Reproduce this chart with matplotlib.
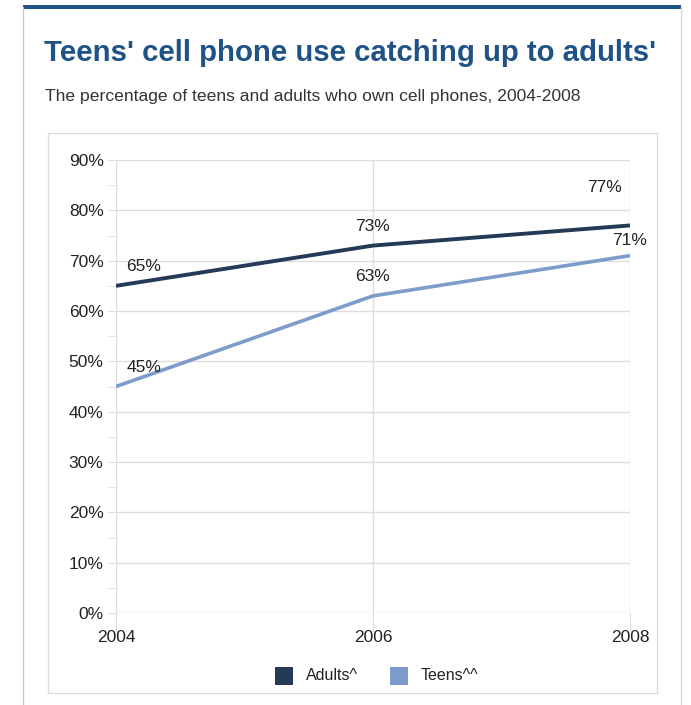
import matplotlib
matplotlib.use('Agg')
import matplotlib.pyplot as plt
from matplotlib.patches import Rectangle
from matplotlib.lines import Line2D

years = [2004, 2006, 2008]
adults = [65, 73, 77]
teens = [45, 63, 71]
series_names = ['Adults^', 'Teens^^']
y_ticks = [0, 10, 20, 30, 40, 50, 60, 70, 80, 90]

adult_color = '#243a56'
teen_color = '#7d9ccc'
text_color = '#222222'
grid_color = '#dddddd'

plt.rcParams['font.family'] = ['Liberation Sans', 'DejaVu Sans']

W, H = 691, 705
fig = plt.figure(figsize=(W / 100, H / 100), dpi=100)
fig.patch.set_facecolor('white')


def px(x, y):
    # pixel coords (top-left origin) to figure fraction
    return x / W, 1 - y / H


# outer panel frame
fig.add_artist(Line2D([23 / W, 23 / W], [0, 1 - 7 / H], color='#c8c8c8', lw=1))
fig.add_artist(Line2D([681 / W, 681 / W], [0, 1 - 7 / H], color='#d8d8d8', lw=1))
fig.add_artist(Rectangle(px(23, 9), 658 / W, 4 / H, color='#1f5285', lw=0))

# inner chart box
fig.add_artist(Rectangle(px(48, 693), 609 / W, 560 / H, fill=False,
                         edgecolor='#dcdcdc', lw=1))

fig.text(*px(44, 53), "Teens' cell phone use catching up to adults'",
         fontsize=21.2, fontweight='bold', color='#1f5285', va='center', ha='left')
fig.text(*px(45, 96), "The percentage of teens and adults who own cell phones, 2004-2008",
         fontsize=12.6, color='#333333', va='center', ha='left')

# plot area
left, right, top, bottom = 116, 630, 160, 613
ax = fig.add_axes([left / W, 1 - bottom / H, (right - left) / W, (bottom - top) / H])
ax.set_xlim(years[0], years[-1])
ax.set_ylim(0, 90)
for s in ax.spines.values():
    s.set_visible(False)
ax.set_yticks(y_ticks)
ax.set_yticklabels([f'{v}%' for v in y_ticks])
ax.set_yticks([v + 5 for v in y_ticks[:-1]], minor=True)
ax.set_xticks(years)
ax.set_xticklabels([str(y) for y in years])
ax.grid(axis='y', color=grid_color, lw=1)
ax.grid(axis='x', color=grid_color, lw=1)
ax.tick_params(axis='y', which='major', length=6, color=grid_color,
               labelsize=12.5, labelcolor=text_color, pad=3)
ax.tick_params(axis='y', which='minor', length=6, color=grid_color)
ax.tick_params(axis='x', length=14, color=grid_color, labelsize=12.5,
               labelcolor=text_color, pad=-2)
ax.set_axisbelow(True)

ax.plot(years, adults, color=adult_color, lw=2.8, solid_capstyle='butt')
ax.plot(years, teens, color=teen_color, lw=2.6, solid_capstyle='butt')

# data labels (offsets in points)
adult_offsets = [(20, 14), (0, 14), (-18, 27)]
teen_offsets = [(20, 14), (0, 14), (0, 11)]
for yr, v, off in zip(years, adults, adult_offsets):
    ax.annotate(f'{v}%', (yr, v), xytext=off, textcoords='offset points',
                ha='center', va='center', fontsize=12.5, color=text_color,
                annotation_clip=False)
for yr, v, off in zip(years, teens, teen_offsets):
    ax.annotate(f'{v}%', (yr, v), xytext=off, textcoords='offset points',
                ha='center', va='center', fontsize=12.5, color=text_color,
                annotation_clip=False)

# legend
legend_items = [(275, series_names[0], adult_color), (390, series_names[1], teen_color)]
for x0, name, col in legend_items:
    fig.add_artist(Rectangle(px(x0, 685), 18 / W, 18 / H, color=col, lw=0))
    fig.text(*px(x0 + 31, 676), name, fontsize=11.5, color=text_color,
             va='center', ha='left')

fig.savefig('out.png', dpi=100)
